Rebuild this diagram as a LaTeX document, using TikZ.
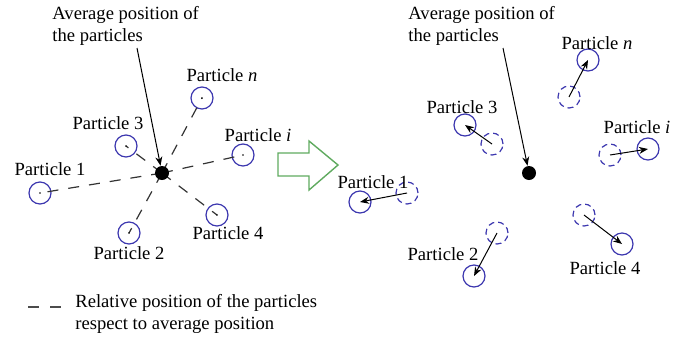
\documentclass[tikz,border=0pt]{standalone}
\usepackage{fontspec}
\setmainfont{Liberation Serif}
\usetikzlibrary{arrows.meta}
\definecolor{ptblue}{RGB}{60,55,175}
\definecolor{arrgreen}{RGB}{95,170,95}

\begin{document}
\begin{tikzpicture}[x=0.5pt,y=0.5pt,
  lbl/.style={font=\fontsize{9.3}{11}\selectfont,inner sep=0pt},
  ptcl/.style={circle,draw=ptblue,line width=0.6pt,minimum size=11pt,inner sep=0pt},
  oldptcl/.style={ptcl,densely dashed},
  avgdot/.style={circle,fill=black,minimum size=7pt,inner sep=0pt},
  relline/.style={dash pattern=on 5.5pt off 5pt,line width=0.6pt,black!80},
  move/.style={-{Stealth[length=4.5pt,width=3.5pt]},line width=0.5pt}]
  \useasboundingbox (0,0) rectangle (684,339);

  % before: particles seen from the average position
  \node[lbl,align=left,anchor=west] (Ltitle) at (52,313) {Average position of\\the particles};
  \coordinate (Lfrom) at (137,291);
  \foreach \n/\pos/\lpos/\txt in {1/{40,146}/{50,170}/1, 2/{129,106}/{129,86}/2,
      3/{126,193}/{108,216}/3, 4/{217,124}/{228,106}/4,
      i/{243,184}/{258,204}/\textit{i}, n/{202,241}/{222,264}/\textit{n}} {
    \node[ptcl] (L\n) at (\pos) {};
    \node[lbl] (L\n txt) at (\lpos) {Particle \txt};
    \draw[relline] (162,166) -- (L\n.center);
    \fill (L\n.center) circle (0.8);
  }
  \node[avgdot] (Lavg) at (162,166) {};
  \draw[move] (Lfrom) -- (Lavg);

  % big arrow
  \draw[arrgreen,line width=0.7pt] (278,163) -- (309,163) -- (309,149) -- (338,174)
    -- (309,198) -- (309,186) -- (278,186) -- cycle;

  % after: particles moved
  \node[lbl,align=left,anchor=west] (Rtitle) at (408,313) {Average position of\\the particles};
  \coordinate (Rfrom) at (503,291);
  \node[avgdot] (Ravg) at (529,166) {};
  \draw[move] (Rfrom) -- (Ravg);
  \foreach \n/\old/\new/\lpos/\txt in {1/{407,146}/{360,137}/{373,157}/1,
      2/{497,106}/{474,63}/{443,85}/2, 3/{492,195}/{465,214}/{462,232}/3,
      4/{584,124}/{622,95}/{605,71}/4, i/{610,184}/{648,190}/{637,212}/\textit{i},
      n/{569,242}/{588,279}/{597,296}/\textit{n}} {
    \node[oldptcl] (R\n o) at (\old) {};
    \node[ptcl] (R\n) at (\new) {};
    \node[lbl] (R\n txt) at (\lpos) {Particle \txt};
    \draw[move] (R\n o.center) -- (R\n.center);
  }

  % legend
  \coordinate (legA) at (28,32);
  \coordinate (legB) at (62,32);
  \draw[dash pattern=on 5.5pt off 5.5pt,line width=0.6pt,black!70] (legA) -- (legB);
  \node[lbl,align=left,anchor=west] (legtxt) at (75,25) {Relative position of the particles\\respect to average position};
\end{tikzpicture}
\end{document}
